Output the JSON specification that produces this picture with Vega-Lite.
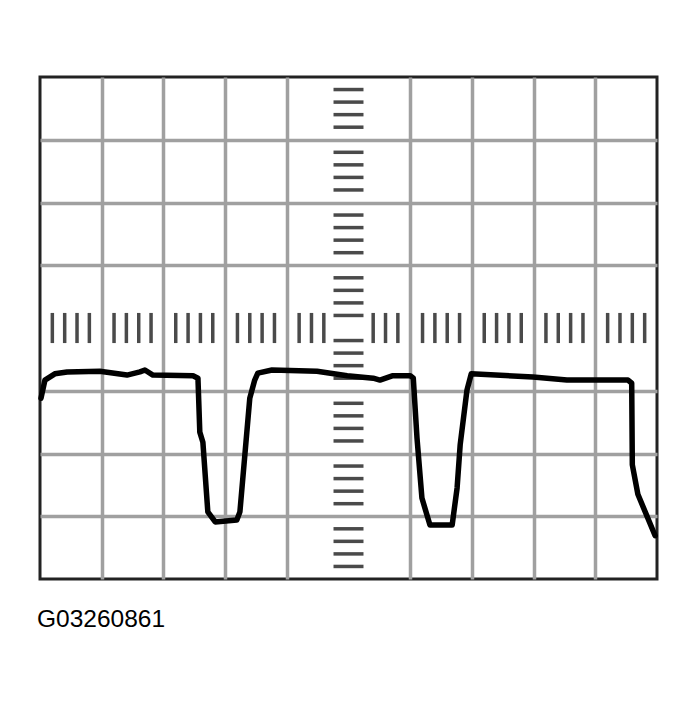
{
  "$schema": "https://vega.github.io/schema/vega-lite/v6.json",
  "width": 617,
  "height": 502,
  "autosize": {"type": "none"},
  "padding": {"left": 40, "top": 77, "right": 40, "bottom": 122},
  "background": "white",
  "title": {
    "text": "G03260861",
    "orient": "bottom",
    "anchor": "start",
    "frame": "group",
    "baseline": "top",
    "offset": 29,
    "dx": -3,
    "font": "Liberation Sans",
    "fontSize": 24.5,
    "fontWeight": "normal",
    "color": "black"
  },
  "datasets": {
    "signal": [
      {"t": 0.016, "v": -1.12},
      {"t": 0.08, "v": -0.83},
      {"t": 0.24, "v": -0.73},
      {"t": 0.44, "v": -0.70},
      {"t": 0.97, "v": -0.69},
      {"t": 1.41, "v": -0.75},
      {"t": 1.62, "v": -0.70},
      {"t": 1.70, "v": -0.67},
      {"t": 1.83, "v": -0.75},
      {"t": 2.48, "v": -0.76},
      {"t": 2.56, "v": -0.80},
      {"t": 2.59, "v": -1.66},
      {"t": 2.64, "v": -1.82},
      {"t": 2.72, "v": -2.93},
      {"t": 2.84, "v": -3.09},
      {"t": 3.19, "v": -3.06},
      {"t": 3.24, "v": -2.93},
      {"t": 3.40, "v": -1.12},
      {"t": 3.48, "v": -0.83},
      {"t": 3.53, "v": -0.72},
      {"t": 3.76, "v": -0.67},
      {"t": 4.49, "v": -0.69},
      {"t": 4.98, "v": -0.76},
      {"t": 5.40, "v": -0.80},
      {"t": 5.51, "v": -0.83},
      {"t": 5.72, "v": -0.76},
      {"t": 6.00, "v": -0.76},
      {"t": 6.05, "v": -0.80},
      {"t": 6.11, "v": -1.75},
      {"t": 6.19, "v": -2.71},
      {"t": 6.32, "v": -3.14},
      {"t": 6.68, "v": -3.14},
      {"t": 6.76, "v": -2.55},
      {"t": 6.81, "v": -1.86},
      {"t": 6.92, "v": -0.99},
      {"t": 6.99, "v": -0.73},
      {"t": 7.99, "v": -0.78},
      {"t": 8.54, "v": -0.83},
      {"t": 9.53, "v": -0.83},
      {"t": 9.59, "v": -0.88},
      {"t": 9.60, "v": -2.18},
      {"t": 9.69, "v": -2.65},
      {"t": 9.97, "v": -3.31}
    ],
    "xticks": [
      {"t": 0.2}, {"t": 0.4}, {"t": 0.6}, {"t": 0.8},
      {"t": 1.2}, {"t": 1.4}, {"t": 1.6}, {"t": 1.8},
      {"t": 2.2}, {"t": 2.4}, {"t": 2.6}, {"t": 2.8},
      {"t": 3.2}, {"t": 3.4}, {"t": 3.6}, {"t": 3.8},
      {"t": 4.2}, {"t": 4.4}, {"t": 4.6},
      {"t": 5.4}, {"t": 5.6}, {"t": 5.8},
      {"t": 6.2}, {"t": 6.4}, {"t": 6.6}, {"t": 6.8},
      {"t": 7.2}, {"t": 7.4}, {"t": 7.6}, {"t": 7.8},
      {"t": 8.2}, {"t": 8.4}, {"t": 8.6}, {"t": 8.8},
      {"t": 9.2}, {"t": 9.4}, {"t": 9.6}, {"t": 9.8}
    ],
    "yticks": [
      {"v": -3.8}, {"v": -3.6}, {"v": -3.4}, {"v": -3.2},
      {"v": -2.8}, {"v": -2.6}, {"v": -2.4}, {"v": -2.2},
      {"v": -1.8}, {"v": -1.6}, {"v": -1.4}, {"v": -1.2},
      {"v": -0.8}, {"v": -0.6}, {"v": -0.4}, {"v": -0.2},
      {"v": 0.2}, {"v": 0.4}, {"v": 0.6}, {"v": 0.8},
      {"v": 1.2}, {"v": 1.4}, {"v": 1.6}, {"v": 1.8},
      {"v": 2.2}, {"v": 2.4}, {"v": 2.6}, {"v": 2.8},
      {"v": 3.2}, {"v": 3.4}, {"v": 3.6}, {"v": 3.8}
    ]
  },
  "layer": [
    {
      "data": {"name": "xticks"},
      "mark": {"type": "rule", "color": "#4a4a4a", "strokeWidth": 3.5},
      "encoding": {
        "x": {
          "field": "t",
          "type": "quantitative",
          "scale": {"domain": [0, 10], "nice": false, "zero": false},
          "axis": {"values": [1, 2, 3, 4, 6, 7, 8, 9], "title": null}
        },
        "y": {"datum": -0.24, "type": "quantitative"},
        "y2": {"datum": 0.24}
      }
    },
    {
      "data": {"name": "yticks"},
      "mark": {"type": "rule", "color": "#4a4a4a", "strokeWidth": 3.5},
      "encoding": {
        "y": {
          "field": "v",
          "type": "quantitative",
          "scale": {"domain": [-4, 4], "nice": false, "zero": false},
          "axis": {"values": [-3, -2, -1, 1, 2, 3], "title": null}
        },
        "x": {"datum": 4.757, "type": "quantitative"},
        "x2": {"datum": 5.243}
      }
    },
    {
      "mark": {"type": "rule", "color": "#555", "strokeWidth": 3},
      "encoding": {"x": {"datum": 5, "type": "quantitative"}}
    },
    {
      "mark": {"type": "rule", "color": "#333", "strokeWidth": 2},
      "encoding": {"y": {"datum": 0, "type": "quantitative"}}
    },
    {
      "data": {"name": "signal"},
      "mark": {"type": "line", "color": "black", "strokeWidth": 5.5, "strokeJoin": "round", "strokeCap": "round"},
      "encoding": {
        "x": {"field": "t", "type": "quantitative"},
        "y": {"field": "v", "type": "quantitative"}
      }
    }
  ],
  "config": {
    "view": {"stroke": "#222", "strokeWidth": 3},
    "axis": {
      "grid": true,
      "gridColor": "#a0a0a0",
      "gridWidth": 3.5,
      "gridOpacity": 1,
      "labels": false,
      "ticks": false,
      "domain": false
    }
  }
}
